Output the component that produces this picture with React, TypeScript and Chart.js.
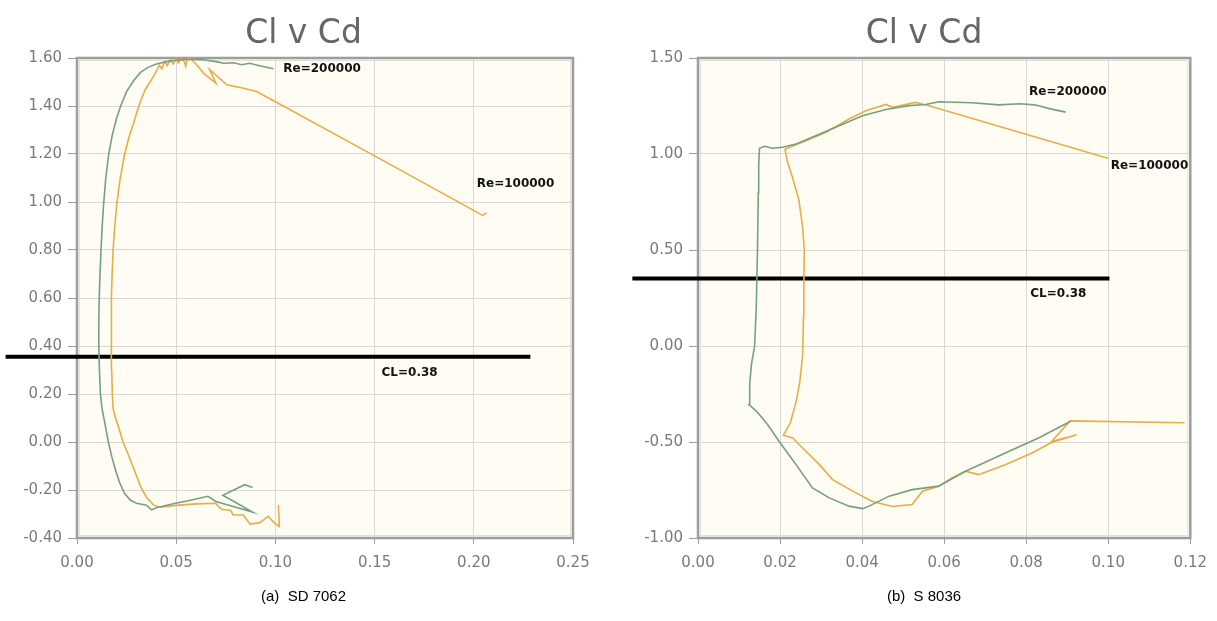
import React, { useEffect, useRef } from "react";
import { Chart, registerables } from "chart.js";

Chart.register(...registerables);

// ---------- Tick values ----------
const SD_X_TICKS = [0, 0.05, 0.1, 0.15, 0.2, 0.25];
const SD_Y_TICKS = [-0.4, -0.2, 0, 0.2, 0.4, 0.6, 0.8, 1.0, 1.2, 1.4, 1.6];
const S_X_TICKS = [0, 0.02, 0.04, 0.06, 0.08, 0.1, 0.12];
const S_Y_TICKS = [-1.0, -0.5, 0, 0.5, 1.0, 1.5];

// ---------- (a) SD 7062, Re = 200000 ----------
const SD_RE200K_CD = [
  0.0885, 0.0845, 0.0735, 0.0885, 0.07, 0.066, 0.056, 0.048, 0.04, 0.0375, 0.035, 0.03, 0.027, 0.024,
  0.0215, 0.0195, 0.0175, 0.0158, 0.014, 0.0126, 0.0118, 0.0113, 0.011, 0.011, 0.0112, 0.0116, 0.0121,
  0.0127, 0.0135, 0.0145, 0.016, 0.0178, 0.02, 0.022, 0.025, 0.0285, 0.032, 0.0355, 0.04, 0.047, 0.055,
  0.064, 0.07, 0.074, 0.079, 0.083, 0.087, 0.092, 0.099,
];
const SD_RE200K_CL = [
  -0.19, -0.178, -0.222, -0.292, -0.248, -0.226, -0.245, -0.258, -0.274, -0.283, -0.263, -0.255, -0.243,
  -0.215, -0.17, -0.12, -0.06, 0.0, 0.08, 0.14, 0.2, 0.3, 0.4, 0.5, 0.6, 0.7, 0.8, 0.9, 1.0, 1.1, 1.2,
  1.28, 1.35, 1.4, 1.46, 1.505, 1.54, 1.56, 1.575, 1.588, 1.595, 1.593, 1.585, 1.578, 1.58, 1.572, 1.578,
  1.568, 1.555,
];

// ---------- (a) SD 7062, Re = 100000 ----------
const SD_RE100K_CD = [
  0.1015, 0.102, 0.0998, 0.0964, 0.0922, 0.0872, 0.085, 0.0838, 0.0787, 0.0775, 0.073, 0.0712, 0.07,
  0.06, 0.05, 0.0418, 0.0385, 0.035, 0.032, 0.029, 0.026, 0.0232, 0.021, 0.019, 0.0182, 0.0178, 0.0175,
  0.0173, 0.0173, 0.0174, 0.0177, 0.0182, 0.019, 0.0202, 0.0218, 0.024, 0.0262, 0.0282, 0.03, 0.032,
  0.0345, 0.0368, 0.039, 0.0402, 0.0415, 0.0428, 0.0442, 0.0455, 0.047, 0.0485, 0.05, 0.0512, 0.0525,
  0.054, 0.0548, 0.0556, 0.0575, 0.06, 0.064, 0.07, 0.0668, 0.0755, 0.084, 0.0905, 0.0998, 0.15, 0.2045,
  0.2065,
];
const SD_RE100K_CL = [
  -0.262, -0.352, -0.34, -0.31, -0.336, -0.342, -0.318, -0.304, -0.304, -0.285, -0.28, -0.268, -0.255,
  -0.258, -0.264, -0.272, -0.262, -0.23, -0.185, -0.12, -0.055, 0.0, 0.06, 0.11, 0.14, 0.2, 0.3, 0.4,
  0.5, 0.6, 0.7, 0.8, 0.9, 1.0, 1.1, 1.2, 1.27, 1.32, 1.37, 1.42, 1.47, 1.5, 1.53, 1.548, 1.57, 1.555,
  1.585, 1.568, 1.592, 1.575, 1.598, 1.58, 1.6, 1.585, 1.565, 1.6, 1.595, 1.575, 1.535, 1.495, 1.552,
  1.488, 1.474, 1.46, 1.419, 1.192, 0.944, 0.955,
];

// ---------- (b) S 8036, Re = 200000 ----------
const S_RE200K_CD = [
  0.0907, 0.083, 0.0749, 0.07, 0.0652, 0.062, 0.0587, 0.0522, 0.0466, 0.0417, 0.0401, 0.0368, 0.032,
  0.0279, 0.0239, 0.0198, 0.017, 0.015, 0.014, 0.0125, 0.0126, 0.013, 0.0138, 0.0142, 0.0145, 0.0147,
  0.0148, 0.015, 0.0162, 0.0182, 0.0206, 0.0239, 0.0287, 0.0344, 0.0401, 0.0458, 0.0514, 0.0555, 0.0587,
  0.0668, 0.0733, 0.0784, 0.0821, 0.0859, 0.0896,
];
const S_RE200K_CL = [
  -0.393, -0.479, -0.557, -0.605, -0.652, -0.69, -0.73, -0.748, -0.782, -0.834, -0.847, -0.834, -0.791,
  -0.739, -0.618, -0.497, -0.41, -0.358, -0.335, -0.306, -0.2, -0.1, 0.0, 0.2, 0.5, 0.8, 0.95, 1.03, 1.04,
  1.03, 1.035, 1.052, 1.095, 1.147, 1.199, 1.232, 1.252, 1.258, 1.272, 1.267, 1.256, 1.262, 1.256, 1.235,
  1.218,
];

// ---------- (b) S 8036, Re = 100000 ----------
const S_RE100K_CD = [
  0.1186, 0.0907, 0.0862, 0.0923, 0.0862, 0.0814, 0.0749, 0.0684, 0.0652, 0.0619, 0.0587, 0.0547,
  0.0522, 0.0474, 0.0425, 0.0377, 0.0328, 0.0296, 0.0255, 0.0231, 0.0208, 0.0225, 0.0238, 0.0248,
  0.0255, 0.0257, 0.0258, 0.0259, 0.0255, 0.0246, 0.023, 0.0218, 0.0212, 0.0263, 0.0312, 0.0368, 0.0409,
  0.0458, 0.0474, 0.053, 0.0563, 0.0999,
];
const S_RE100K_CL = [
  -0.4, -0.39, -0.497, -0.462, -0.503, -0.557, -0.618, -0.67, -0.652, -0.687, -0.73, -0.756, -0.826,
  -0.836, -0.81, -0.756, -0.696, -0.618, -0.531, -0.479, -0.465, -0.4, -0.3, -0.19, -0.05, 0.15, 0.3,
  0.5, 0.62, 0.76, 0.88, 0.96, 1.025, 1.069, 1.113, 1.182, 1.225, 1.258, 1.243, 1.269, 1.251, 0.978,
];

// ---------- Reference line CL = 0.38 (drawn as in the figure) ----------
const SD_CL_LINE_CD = [-0.036, 0.2285];
const SD_CL_LINE_CL = [0.355, 0.355];
const S_CL_LINE_CD = [-0.016, 0.1003];
const S_CL_LINE_CL = [0.352, 0.352];

// ---------- Text notes (anchored in data coordinates) ----------
const SD_NOTE_TEXT = ["Re=200000", "Re=100000", "CL=0.38"];
const SD_NOTE_CD = [0.104, 0.2015, 0.1535];
const SD_NOTE_CL = [1.555, 1.075, 0.29];
const S_NOTE_TEXT = ["Re=200000", "Re=100000", "CL=0.38"];
const S_NOTE_CD = [0.0807, 0.1006, 0.081];
const S_NOTE_CL = [1.325, 0.937, 0.271];

const GREEN = "#76a080";
const ORANGE = "#e9ad47";
const TICK_FONT = { family: "DejaVu Sans", size: 15 };

const zip = (xs: number[], ys: number[]) => xs.map((x, i) => ({ x, y: ys[i] }));

const plotFrame = {
  id: "plotFrame",
  beforeDraw(chart: any) {
    const { ctx, chartArea: a } = chart;
    ctx.save();
    ctx.fillStyle = "#fefcf3";
    ctx.fillRect(a.left, a.top, a.right - a.left, a.bottom - a.top);
    ctx.restore();
  },
  beforeDatasetsDraw(chart: any) {
    const { ctx, chartArea: a } = chart;
    ctx.save();
    ctx.strokeStyle = "#e2e0da";
    ctx.lineWidth = 1;
    ctx.strokeRect(a.left + 2.5, a.top + 2.5, a.right - a.left - 5, a.bottom - a.top - 5);
    ctx.strokeStyle = "#9d9d9d";
    ctx.lineWidth = 2.5;
    ctx.strokeRect(a.left, a.top, a.right - a.left, a.bottom - a.top);
    ctx.restore();
  },
};

const notes = {
  id: "notes",
  afterDatasetsDraw(chart: any, _args: any, opts: any) {
    const { ctx } = chart;
    const xs = chart.scales.x;
    const ys = chart.scales.y;
    ctx.save();
    ctx.font = 'bold 12px "DejaVu Sans"';
    ctx.fillStyle = "#111";
    ctx.textAlign = "left";
    ctx.textBaseline = "middle";
    (opts.text || []).forEach((t: string, i: number) => {
      ctx.fillText(t, xs.getPixelForValue(opts.cd[i]), ys.getPixelForValue(opts.cl[i]));
    });
    ctx.restore();
  },
};

type Cfg = {
  xTicks: number[];
  yTicks: number[];
  re200: { x: number; y: number }[];
  re100: { x: number; y: number }[];
  clLine: { x: number; y: number }[];
  noteText: string[];
  noteCd: number[];
  noteCl: number[];
  caption: string;
  padLeft: number;
  padRight: number;
  yWidth: number;
  xHeight: number;
};

function PolarChart({ cfg, width, height }: { cfg: Cfg; width: number; height: number }) {
  const ref = useRef<HTMLCanvasElement | null>(null);
  useEffect(() => {
    if (!ref.current) return;
    const xMin = cfg.xTicks[0];
    const xMax = cfg.xTicks[cfg.xTicks.length - 1];
    const yMin = cfg.yTicks[0];
    const yMax = cfg.yTicks[cfg.yTicks.length - 1];
    const chart = new Chart(ref.current, {
      type: "scatter",
      data: {
        datasets: [
          {
            label: "Re=200000",
            data: cfg.re200,
            showLine: true,
            borderColor: GREEN,
            borderWidth: 1.6,
            pointRadius: 0,
            tension: 0,
          },
          {
            label: "Re=100000",
            data: cfg.re100,
            showLine: true,
            borderColor: ORANGE,
            borderWidth: 1.6,
            pointRadius: 0,
            tension: 0,
          },
          {
            label: "CL=0.38",
            data: cfg.clLine,
            showLine: true,
            borderColor: "#000",
            borderWidth: 4,
            pointRadius: 0,
            clip: false,
          },
        ],
      },
      options: {
        responsive: false,
        animation: false,
        layout: { padding: { left: cfg.padLeft, right: cfg.padRight, top: 0, bottom: 10 } },
        plugins: {
          legend: { display: false },
          tooltip: { enabled: false },
          title: {
            display: true,
            text: "Cl v Cd",
            color: "#666",
            font: { family: "DejaVu Sans", size: 33, weight: "normal", lineHeight: 1.2 },
            padding: { top: 15, bottom: 3.4 },
          },
          subtitle: {
            display: true,
            position: "bottom",
            text: cfg.caption,
            color: "#000",
            font: { family: "Liberation Sans", size: 15, weight: "normal" },
            padding: { top: 0, bottom: 5 },
          },
          notes: { text: cfg.noteText, cd: cfg.noteCd, cl: cfg.noteCl },
        } as any,
        scales: {
          x: {
            type: "linear",
            min: xMin,
            max: xMax,
            afterBuildTicks: (s: any) => {
              s.ticks = cfg.xTicks.map((v) => ({ value: v }));
            },
            afterFit: (s: any) => {
              s.height = cfg.xHeight;
            },
            border: { display: false },
            grid: { color: "#d8d8d8", lineWidth: 1, tickLength: 6, tickColor: "#9d9d9d" },
            ticks: {
              color: "#7a7a7a",
              font: TICK_FONT,
              padding: 10,
              maxRotation: 0,
              autoSkip: false,
              callback: (v: any) => Number(v).toFixed(2),
            },
          },
          y: {
            type: "linear",
            min: yMin,
            max: yMax,
            afterBuildTicks: (s: any) => {
              s.ticks = cfg.yTicks.map((v) => ({ value: v }));
            },
            afterFit: (s: any) => {
              s.width = cfg.yWidth;
              // let the tick labels extend past the narrow axis box (into the padding)
              s._computeLabelArea = () => undefined;
            },
            border: { display: false },
            grid: { color: "#d8d8d8", lineWidth: 1, tickLength: 9, tickColor: "#9d9d9d" },
            ticks: {
              color: "#7a7a7a",
              font: TICK_FONT,
              padding: 6,
              autoSkip: false,
              callback: (v: any) => Number(v).toFixed(2),
            },
          },
        },
      },
      plugins: [plotFrame, notes],
    } as any);
    return () => chart.destroy();
  }, [cfg]);
  return <canvas ref={ref} width={width} height={height} style={{ display: "block" }} />;
}

const LEFT: Cfg = {
  xTicks: SD_X_TICKS,
  yTicks: SD_Y_TICKS,
  re200: zip(SD_RE200K_CD, SD_RE200K_CL),
  re100: zip(SD_RE100K_CD, SD_RE100K_CL),
  clLine: zip(SD_CL_LINE_CD, SD_CL_LINE_CL),
  noteText: SD_NOTE_TEXT,
  noteCd: SD_NOTE_CD,
  noteCl: SD_NOTE_CL,
  caption: "(a)  SD 7062",
  padLeft: 34,
  padRight: 27,
  yWidth: 43,
  xHeight: 50,
};

const RIGHT: Cfg = {
  xTicks: S_X_TICKS,
  yTicks: S_Y_TICKS,
  re200: zip(S_RE200K_CD, S_RE200K_CL),
  re100: zip(S_RE100K_CD, S_RE100K_CL),
  clLine: zip(S_CL_LINE_CD, S_CL_LINE_CL),
  noteText: S_NOTE_TEXT,
  noteCd: S_NOTE_CD,
  noteCl: S_NOTE_CL,
  caption: "(b)  S 8036",
  padLeft: 48,
  padRight: 25,
  yWidth: 42,
  xHeight: 50,
};

export default function App() {
  return (
    <div
      style={{
        position: "fixed",
        left: 0,
        top: 0,
        width: 1217,
        height: 621,
        overflow: "hidden",
        background: "#fff",
      }}
    >
      <div style={{ position: "absolute", left: 0, top: 0 }}>
        <PolarChart cfg={LEFT} width={600} height={621} />
      </div>
      <div style={{ position: "absolute", left: 608, top: 0 }}>
        <PolarChart cfg={RIGHT} width={609} height={621} />
      </div>
    </div>
  );
}
